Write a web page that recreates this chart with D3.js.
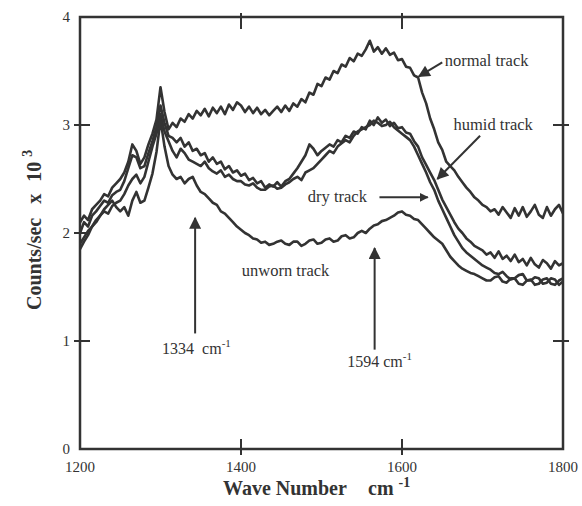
<!DOCTYPE html>
<html>
<head>
<meta charset="utf-8">
<script src="https://cdn.jsdelivr.net/npm/d3@7"></script>
<style>
  body { margin: 0; background: #fff; }
  text { font-family: "Liberation Serif", "Times New Roman", serif; fill: #333; white-space: pre; }
</style>
</head>
<body>
<div id="chart-area"></div>
<script>
// wave numbers, 5 cm-1 steps
var waveNumbers = d3.range(1200, 1801, 5);

var normalTrack = [
  2.10, 2.16, 2.12, 2.22, 2.26, 2.30, 2.36, 2.34, 2.42, 2.46,
  2.50, 2.56, 2.66, 2.82, 2.76, 2.64, 2.70, 2.82, 2.92, 3.05,
  3.35, 3.12, 2.96, 3.02, 2.98, 3.06, 3.03, 3.10, 3.06, 3.13,
  3.09, 3.15, 3.08, 3.16, 3.11, 3.17, 3.10, 3.19, 3.14, 3.21,
  3.18, 3.12, 3.17, 3.11, 3.16, 3.10, 3.14, 3.09, 3.13, 3.17,
  3.12, 3.18, 3.13, 3.20, 3.17, 3.24, 3.21, 3.30, 3.28, 3.38,
  3.36, 3.44, 3.42, 3.50, 3.48, 3.56, 3.54, 3.62, 3.59, 3.66,
  3.64, 3.70, 3.78, 3.68, 3.72, 3.66, 3.71, 3.65, 3.67, 3.60,
  3.61, 3.54, 3.53, 3.46, 3.44, 3.30, 3.20, 3.06, 2.96, 2.84,
  2.77, 2.66, 2.62, 2.58, 2.52, 2.47, 2.42, 2.38, 2.33, 2.30,
  2.26, 2.24, 2.20, 2.22, 2.17, 2.24, 2.19, 2.14, 2.23, 2.16,
  2.24, 2.15, 2.20, 2.26, 2.17, 2.14, 2.24, 2.16, 2.22, 2.26,
  2.18];

var humidTrack = [
  2.00, 2.10, 2.06, 2.16, 2.20, 2.25, 2.30, 2.28, 2.35, 2.38,
  2.40, 2.48, 2.60, 2.72, 2.70, 2.60, 2.62, 2.74, 2.85, 2.98,
  3.18, 3.02, 2.90, 2.88, 2.84, 2.88, 2.80, 2.84, 2.76, 2.78,
  2.72, 2.74, 2.66, 2.70, 2.64, 2.66, 2.59, 2.62, 2.56, 2.58,
  2.53, 2.55, 2.49, 2.51, 2.46, 2.48, 2.42, 2.45, 2.43, 2.47,
  2.43, 2.48, 2.50, 2.55, 2.60, 2.66, 2.72, 2.82, 2.78, 2.72,
  2.76, 2.79, 2.82, 2.80, 2.86, 2.84, 2.90, 2.88, 2.94, 2.92,
  2.98, 2.96, 3.04, 3.00, 3.07, 3.02, 3.05, 2.99, 3.02, 2.97,
  2.98, 2.93, 2.92, 2.85, 2.80, 2.70, 2.63, 2.56, 2.49, 2.40,
  2.31, 2.24, 2.17, 2.10, 2.04, 2.00, 1.95, 1.92, 1.88, 1.86,
  1.84, 1.80, 1.82, 1.77, 1.83, 1.76, 1.79, 1.74, 1.80, 1.73,
  1.76, 1.70, 1.77, 1.71, 1.68, 1.75, 1.72, 1.67, 1.74, 1.70,
  1.72];

var dryTrack = [
  1.90, 1.96, 2.02, 2.06, 2.12, 2.16, 2.20, 2.18, 2.25, 2.28,
  2.30, 2.36, 2.44, 2.50, 2.54, 2.46, 2.52, 2.66, 2.80, 2.92,
  3.10, 2.94, 2.85, 2.76, 2.70, 2.78, 2.74, 2.68, 2.66, 2.64,
  2.62, 2.66, 2.60, 2.57, 2.55, 2.58, 2.52, 2.54, 2.50, 2.48,
  2.48, 2.45, 2.44, 2.46, 2.42, 2.40, 2.40, 2.43, 2.44, 2.41,
  2.42, 2.45, 2.47, 2.50, 2.52, 2.49, 2.56, 2.58, 2.60, 2.64,
  2.68, 2.72, 2.76, 2.74, 2.80, 2.83, 2.86, 2.84, 2.90, 2.94,
  2.96, 2.98, 3.00, 3.04, 3.02, 2.99, 3.00, 3.03, 2.98, 2.95,
  2.92, 2.89, 2.86, 2.80, 2.72, 2.64, 2.56, 2.47, 2.40, 2.30,
  2.22, 2.14, 2.06, 1.98, 1.92, 1.86, 1.82, 1.79, 1.76, 1.73,
  1.70, 1.68, 1.66, 1.63, 1.62, 1.64, 1.60, 1.57, 1.58, 1.61,
  1.62, 1.56, 1.56, 1.59, 1.58, 1.53, 1.54, 1.58, 1.57, 1.52,
  1.55];

var unwornTrack = [
  1.85, 1.92, 1.98, 2.06, 2.10, 2.16, 2.22, 2.26, 2.30, 2.24,
  2.20, 2.24, 2.16, 2.30, 2.38, 2.28, 2.30, 2.42, 2.55, 2.75,
  3.05, 2.80, 2.62, 2.54, 2.50, 2.52, 2.46, 2.50, 2.52, 2.44,
  2.38, 2.36, 2.32, 2.28, 2.26, 2.20, 2.18, 2.14, 2.10, 2.06,
  2.03, 2.00, 1.98, 1.95, 1.94, 1.91, 1.92, 1.89, 1.90, 1.92,
  1.93, 1.90, 1.89, 1.92, 1.92, 1.88, 1.90, 1.93, 1.94, 1.90,
  1.91, 1.94, 1.95, 1.92, 1.93, 1.97, 1.98, 1.95, 1.96, 2.00,
  2.02, 2.00, 2.04, 2.07, 2.08, 2.11, 2.12, 2.14, 2.16, 2.19,
  2.20, 2.17, 2.16, 2.13, 2.12, 2.08, 2.04, 2.00, 1.96, 1.93,
  1.90, 1.84, 1.78, 1.74, 1.70, 1.67, 1.65, 1.63, 1.62, 1.60,
  1.58, 1.56, 1.56, 1.59, 1.60, 1.55, 1.54, 1.58, 1.58, 1.53,
  1.52, 1.56, 1.57, 1.52, 1.53, 1.57, 1.58, 1.53, 1.52, 1.56,
  1.58];

var xTicks = [1200, 1400, 1600, 1800];
var yTicks = [0, 1, 2, 3, 4];

var width = 582, height = 506;
var margin = { top: 17, right: 19, bottom: 57, left: 80 };

var svg = d3.select("#chart-area")
  .append("svg")
  .attr("width", width)
  .attr("height", height);

var x = d3.scaleLinear().domain([1200, 1800]).range([margin.left, width - margin.right]);
var y = d3.scaleLinear().domain([0, 4]).range([height - margin.bottom, margin.top]);

var ink = "#333";

// frame
svg.append("rect")
  .attr("x", x(1200)).attr("y", y(4))
  .attr("width", x(1800) - x(1200)).attr("height", y(0) - y(4))
  .attr("fill", "none").attr("stroke", ink).attr("stroke-width", 2.5);

// ticks crossing the frame
var tIn = 10, tOut = 6;
svg.selectAll(".xtb").data(xTicks.slice(1, 3)).enter().append("line")
  .attr("x1", d => x(d)).attr("x2", d => x(d))
  .attr("y1", y(0) - tIn).attr("y2", y(0) + tOut)
  .attr("stroke", ink).attr("stroke-width", 2);
svg.selectAll(".xtt").data(xTicks.slice(1, 3)).enter().append("line")
  .attr("x1", d => x(d)).attr("x2", d => x(d))
  .attr("y1", y(4) - tOut + 2).attr("y2", y(4) + tIn + 2)
  .attr("stroke", ink).attr("stroke-width", 2);
svg.selectAll(".ytl").data(yTicks.slice(1, 4)).enter().append("line")
  .attr("x1", x(1200) - tOut).attr("x2", x(1200) + tIn)
  .attr("y1", d => y(d)).attr("y2", d => y(d))
  .attr("stroke", ink).attr("stroke-width", 2);
svg.selectAll(".ytr").data([1, 3]).enter().append("line")
  .attr("x1", x(1800) - tIn).attr("x2", x(1800) + tOut)
  .attr("y1", d => y(d)).attr("y2", d => y(d))
  .attr("stroke", ink).attr("stroke-width", 2);

// tick labels
svg.selectAll(".xl").data(xTicks).enter().append("text")
  .attr("x", d => x(d)).attr("y", y(0) + 23)
  .attr("text-anchor", "middle")
  .style("font-size", "15px")
  .text(d => d);
svg.selectAll(".yl").data(yTicks).enter().append("text")
  .attr("x", x(1200) - 10).attr("y", d => y(d) + 5)
  .attr("text-anchor", "end")
  .style("font-size", "15px")
  .text(d => d);

// curves
var series = [normalTrack, humidTrack, dryTrack, unwornTrack];
var line = d3.line()
  .x((d, i) => x(waveNumbers[i]))
  .y(d => y(d));

svg.selectAll(".curve").data(series).enter().append("path")
  .attr("d", d => line(d))
  .attr("fill", "none")
  .attr("stroke", ink)
  .attr("stroke-width", 2.6)
  .attr("stroke-linejoin", "round");

// arrows
var defs = svg.append("defs");
defs.append("marker")
  .attr("id", "head")
  .attr("viewBox", "0 0 10 10")
  .attr("refX", 9).attr("refY", 5)
  .attr("markerWidth", 9).attr("markerHeight", 9)
  .attr("markerUnits", "userSpaceOnUse")
  .attr("orient", "auto")
  .append("path").attr("d", "M0,0 L10,5 L0,10 Z").attr("fill", ink);
defs.append("marker")
  .attr("id", "bighead")
  .attr("viewBox", "0 0 10 10")
  .attr("refX", 9).attr("refY", 5)
  .attr("markerWidth", 14).attr("markerHeight", 12)
  .attr("markerUnits", "userSpaceOnUse")
  .attr("orient", "auto")
  .append("path").attr("d", "M0,0 L10,5 L0,10 Z").attr("fill", ink);

function arrow(x1, y1, x2, y2, big) {
  svg.append("line")
    .attr("x1", x(x1)).attr("y1", y(y1))
    .attr("x2", x(x2)).attr("y2", y(y2))
    .attr("stroke", ink).attr("stroke-width", 2)
    .attr("marker-end", big ? "url(#bighead)" : "url(#head)");
}

arrow(1650, 3.58, 1621, 3.45, true);
arrow(1697, 2.90, 1644, 2.50, true);
arrow(1572, 2.33, 1632, 2.33, false);
arrow(1343, 1.07, 1343, 2.14, true);
arrow(1566, 0.92, 1566, 1.86, true);

function label(txt, xv, yv, size, sup) {
  var t = svg.append("text")
    .attr("x", x(xv)).attr("y", y(yv))
    .style("font-size", size + "px")
    .text(txt);
  if (sup) {
    t.append("tspan").attr("dy", -7).style("font-size", "11px").text(sup);
  }
  return t;
}

label("normal track", 1653, 3.55, 16.5);
label("humid track", 1664, 2.95, 16.5);
label("dry track", 1483, 2.29, 16.5);
label("unworn track", 1401, 1.60, 16.5);
label("1334  cm", 1302, 0.88, 16, "-1");
label("1594 cm", 1532, 0.76, 16, "-1");

// axis titles
var xt = svg.append("text")
  .attr("x", 223).attr("y", 495)
  .style("font-size", "20px").style("font-weight", "bold")
  .text("Wave Number");
xt.append("tspan").attr("x", 368).text("cm");
xt.append("tspan").attr("dx", 5).attr("dy", -8).style("font-size", "14px").text("-1");

var yt = svg.append("text")
  .attr("transform", "translate(41,310) rotate(-90)")
  .style("font-size", "20px").style("font-weight", "bold")
  .text("Counts/sec");
yt.append("tspan").attr("dx", 14).text("x");
yt.append("tspan").attr("dx", 12).text("10");
yt.append("tspan").attr("dx", 5).attr("dy", -9).style("font-size", "14px").text("3");
</script>
</body>
</html>
